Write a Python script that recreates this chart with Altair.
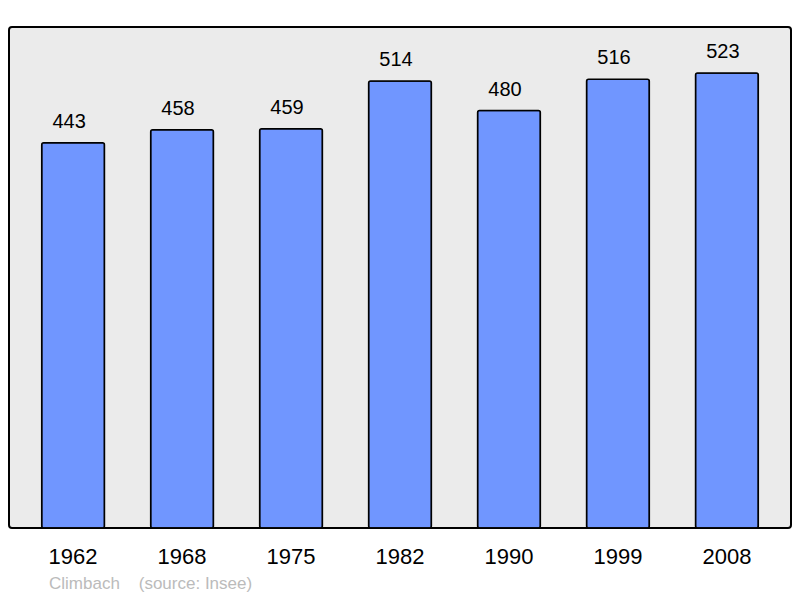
import altair as alt
import pandas as pd

years = ["1962", "1968", "1975", "1982", "1990", "1999", "2008"]
population = [443, 458, 459, 514, 480, 516, 523]
footer = "Climbach\u00a0\u00a0\u00a0\u00a0(source: Insee)"

df = pd.DataFrame({"year": years, "pop": population})

FONT = "Liberation Sans"

x = alt.X("year:N", sort=years, title=None,
          scale=alt.Scale(paddingInner=0.424, paddingOuter=0.3),
          axis=alt.Axis(domain=False, ticks=False, labelAngle=0, labelFontSize=22,
                        labelColor="black", labelFont=FONT, labelBaseline="alphabetic",
                        labelPadding=35))
y = alt.Y("pop:Q", title=None, scale=alt.Scale(domain=[0, 576], nice=False, zero=True),
          axis=None)

bars = alt.Chart(df).mark_bar(fill="#7096ff", stroke="black", strokeWidth=1.5,
                              cornerRadius=2).encode(x=x, y=y)
labels = alt.Chart(df).mark_text(fontSize=20, font=FONT, color="black",
                                 baseline="alphabetic", dy=-15, dx=-4).encode(
    x=x, y=y, text="pop:Q")

chart = (bars + labels).properties(
    width=782, height=501,
    background="white",
    title=alt.TitleParams(footer, orient="bottom", anchor="start",
                          fontSize=17, font=FONT, fontWeight="normal", color="#bbbbbb",
                          dx=40, offset=9),
    padding={"left": 1, "top": 19, "right": 1, "bottom": 70},
    autosize="none",
).configure_view(
    fill="#ebebeb", stroke="black", strokeWidth=2, cornerRadius=3
)

chart.save("out.html", embed_options={"renderer": "svg", "actions": False})
